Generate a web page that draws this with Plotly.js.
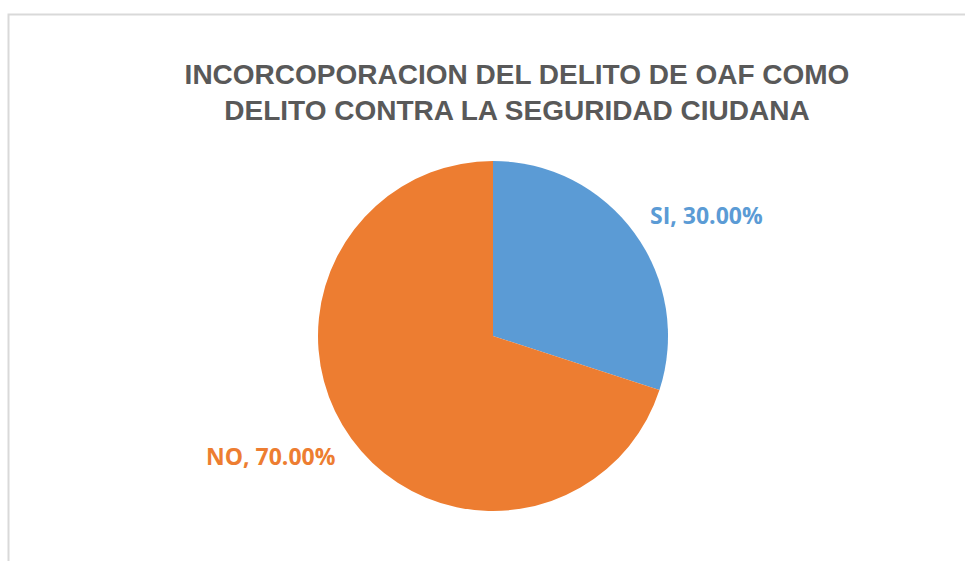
<!DOCTYPE html>
<html>
<head>
<meta charset="utf-8">
<script src="https://cdn.plot.ly/plotly-3.0.1.min.js"></script>
<style>html,body{margin:0;padding:0;background:#fff;}#chart{width:965px;height:561px;}</style>
</head>
<body>
<div id="chart"></div>
<script>
const categories = ["SI", "NO"];
const values = [30.00, 70.00];
const colors = ["#5B9BD5", "#ED7D31"];
const titleText = "INCORCOPORACION DEL DELITO DE OAF COMO<br>DELITO CONTRA LA SEGURIDAD CIUDANA";

const W = 965, H = 561;
const cx = 493, cy = 336, r = 175;

const trace = {
  type: "pie",
  labels: categories,
  values: values,
  sort: false,
  direction: "clockwise",
  rotation: 0,
  textinfo: "none",
  hoverinfo: "label+percent",
  marker: {colors: colors, line: {width: 0}},
  domain: {x: [(cx - r) / W, (cx + r) / W], y: [1 - (cy + r) / H, 1 - (cy - r) / H]},
  showlegend: false
};

// label placement (outside, paper fractions)
const labelPos = [[706 / W, 1 - 215 / H], [271 / W, 1 - 456 / H]];
const annotations = categories.map((c, i) => ({
  xref: "paper", yref: "paper",
  x: labelPos[i][0], y: labelPos[i][1],
  xanchor: "center", yanchor: "middle",
  text: "<b>" + c + ", " + values[i].toFixed(2) + "%</b>",
  showarrow: false,
  font: {family: "Open Sans, Lato, sans-serif", size: 23, color: colors[i]}
}));

const layout = {
  width: W, height: H,
  margin: {l: 0, r: 0, t: 0, b: 0},
  paper_bgcolor: "#ffffff",
  title: {
    text: "<b>" + titleText + "</b>",
    x: 517 / W, xanchor: "center", xref: "paper",
    y: 1 - 84 / H, yanchor: "middle", yref: "paper",
    font: {family: "Liberation Sans, Arial, sans-serif", size: 28, color: "#595959"}
  },
  annotations: annotations,
  shapes: [{
    type: "rect", xref: "paper", yref: "paper",
    x0: 8.5 / W, x1: 1.02, y0: -0.02, y1: 1 - 14.5 / H,
    line: {color: "#d9d9d9", width: 2}, fillcolor: "rgba(0,0,0,0)"
  }]
};

Plotly.newPlot("chart", [trace], layout, {displayModeBar: false, staticPlot: true});
</script>
</body>
</html>
